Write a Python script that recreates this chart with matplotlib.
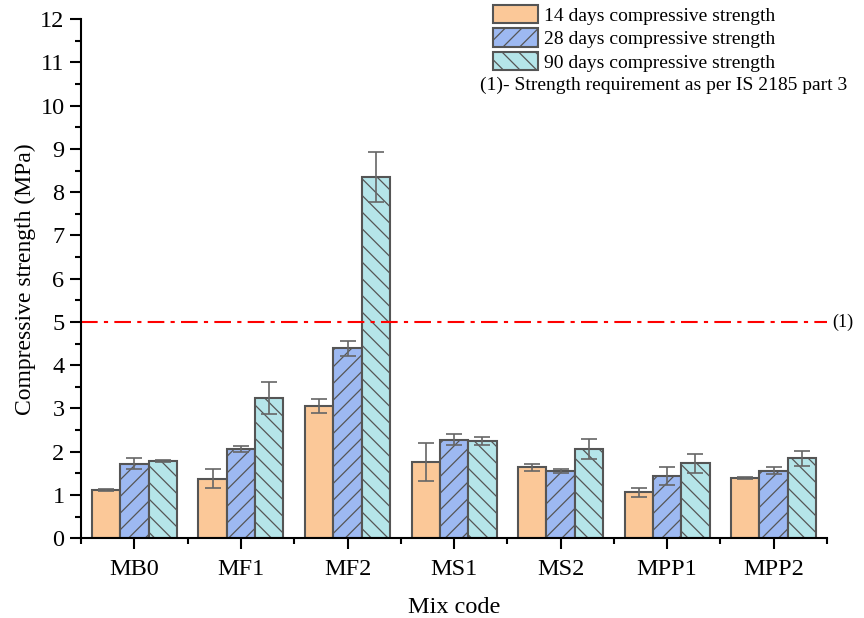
import numpy as np
import matplotlib.pyplot as plt
from matplotlib.ticker import MultipleLocator, FixedLocator

plt.rcParams['font.family'] = ['Liberation Serif', 'DejaVu Serif']
plt.rcParams['hatch.color'] = '#444444'
plt.rcParams['hatch.linewidth'] = 0.9

mixes = ['MB0', 'MF1', 'MF2', 'MS1', 'MS2', 'MPP1', 'MPP2']
d14 = [1.11, 1.38, 3.05, 1.77, 1.64, 1.06, 1.40]
d14_err = [0.02, 0.21, 0.16, 0.44, 0.08, 0.11, 0.02]
d28 = [1.72, 2.06, 4.39, 2.28, 1.56, 1.44, 1.56]
d28_err = [0.13, 0.07, 0.17, 0.13, 0.05, 0.20, 0.08]
d90 = [1.78, 3.24, 8.35, 2.25, 2.07, 1.73, 1.85]
d90_err = [0.02, 0.37, 0.58, 0.09, 0.23, 0.21, 0.17]
requirement = 5

fig = plt.figure(figsize=(8.64, 6.18), dpi=100)
ax = fig.add_axes([0.094, 0.129, 0.863, 0.840])

x = np.arange(len(mixes))
w = 0.266
err_kw = dict(ecolor='#666666', elinewidth=1.2, capsize=6, capthick=1.2)
ax.bar(x - w, d14, w, yerr=d14_err, color='#FBC898', edgecolor='#555555',
       linewidth=1.5, error_kw=err_kw, label='14 days compressive strength')
ax.bar(x, d28, w, yerr=d28_err, color='#9DB9F2', edgecolor='#555555',
       linewidth=1.5, hatch='//', error_kw=err_kw, label='28 days compressive strength')
ax.bar(x + w, d90, w, yerr=d90_err, color='#B5E5E9', edgecolor='#555555',
       linewidth=1.5, hatch='\\\\', error_kw=err_kw, label='90 days compressive strength')

ax.axhline(requirement, color='red', linestyle=(0, (8, 3, 2, 3)), linewidth=1.5)
ax.text(6.55, requirement, '(1)', fontsize=13, va='center', ha='left')

ax.set_xlim(-0.5, 6.5)
ax.set_ylim(0, 12)
ax.set_xticks(x)
ax.set_xticklabels(mixes)
ax.xaxis.set_minor_locator(FixedLocator(np.arange(-0.5, 7, 1)))
ax.yaxis.set_major_locator(MultipleLocator(1))
ax.yaxis.set_minor_locator(MultipleLocator(0.5))
ax.tick_params(axis='both', which='major', direction='out', length=8, width=1.5, labelsize=17.5)
ax.tick_params(axis='both', which='minor', direction='out', length=4, width=1.5)
ax.tick_params(axis='x', pad=7)
ax.tick_params(axis='y', pad=4)

ax.spines['top'].set_visible(False)
ax.spines['right'].set_visible(False)
ax.spines['left'].set_linewidth(1.5)
ax.spines['bottom'].set_linewidth(1.5)

ax.set_xlabel('Mix code', fontsize=17.5, labelpad=12)
ax.set_ylabel('Compressive strength (MPa)', fontsize=17, labelpad=3)

leg = fig.legend(loc='upper left', bbox_to_anchor=(0.571, 0.992), fontsize=14,
                 frameon=False, handlelength=2.3, handleheight=1.05,
                 handletextpad=0.3, labelspacing=0.2, borderpad=0, borderaxespad=0)
fig.text(0.556, 0.862, '(1)- Strength requirement as per IS 2185 part 3',
         fontsize=14, va='center')

fig.savefig('out.png', dpi=100)
